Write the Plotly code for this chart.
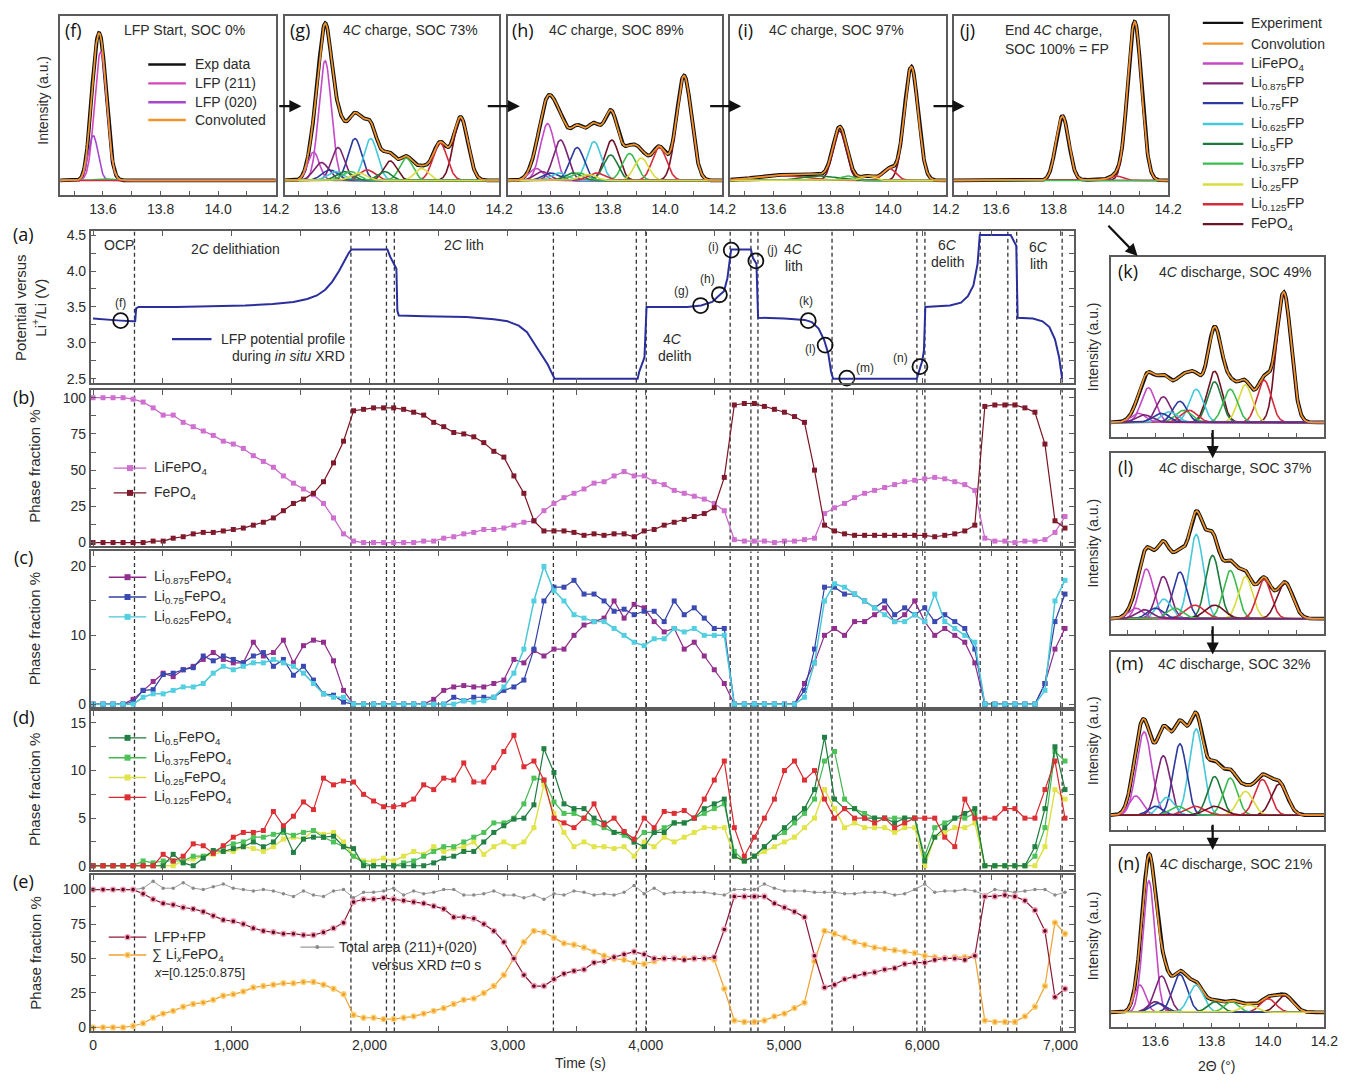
import numpy as np
import plotly.graph_objects as go

W, H = 1369, 1082
TXT = "Liberation Sans, Arial, Helvetica, sans-serif"
LBL = "Open Sans, DejaVu Sans, sans-serif"
FRAME = "#5b5b5b"
INK = "#2b2b2b"

# ---------------------------------------------------------------- time series data
time_s = [0, 72.5, 145, 217.5, 290, 362.5, 435, 507.5, 580, 652.5,
          725, 797.5, 870, 942.5, 1015, 1087.5, 1160, 1232.5, 1305, 1377.5,
          1450, 1522.5, 1595, 1667.5, 1740, 1812.5, 1885, 1957.5, 2030, 2102.5,
          2175, 2247.5, 2320, 2392.5, 2465, 2537.5, 2610, 2682.5, 2755, 2827.5,
          2900, 2972.5, 3045, 3117.5, 3190, 3262.5, 3335, 3407.5, 3480, 3552.5,
          3625, 3697.5, 3770, 3842.5, 3915, 3987.5, 4060, 4132.5, 4205, 4277.5,
          4350, 4422.5, 4495, 4567.5, 4640, 4712.5, 4785, 4857.5, 4930, 5002.5,
          5075, 5147.5, 5220, 5292.5, 5365, 5437.5, 5510, 5582.5, 5655, 5727.5,
          5800, 5872.5, 5945, 6017.5, 6090, 6162.5, 6235, 6307.5, 6380, 6452.5,
          6525, 6597.5, 6670, 6742.5, 6815, 6887.5, 6960, 7032.5]

lifepo4 = [100, 100, 100, 100, 99, 97, 93, 88, 88, 83,
           80, 77, 74, 70, 68, 65, 60, 56, 52, 46,
           41, 37, 33, 27, 17, 6, 1, 0, 0, 0,
           0, 0, 0, 1, 1, 3, 4, 6, 7, 9,
           9, 10, 12, 14, 15, 22, 27, 31, 34, 37,
           41, 42, 46, 49, 46, 46, 42, 40, 36, 34,
           32, 30, 27, 22, 2, 1, 1, 1, 0, 1,
           1, 2, 3, 20, 24, 27, 31, 34, 36, 38,
           40, 42, 43, 44, 45, 44, 42, 40, 36, 3,
           1, 1, 0, 1, 1, 2, 7, 18]
fepo4 = [0, 0, 0, 0, 0, 0, 1, 1, 3, 4,
         6, 7, 7, 8, 9, 10, 12, 14, 17, 22,
         27, 30, 34, 42, 55, 70, 91, 92, 93, 93,
         93, 92, 90, 88, 83, 80, 76, 75, 73, 69,
         63, 59, 46, 34, 15, 8, 8, 8, 7, 5,
         6, 5, 6, 6, 4, 8, 9, 12, 14, 16,
         18, 20, 24, 45, 95, 96, 96, 94, 92, 90,
         87, 83, 50, 12, 8, 6, 5, 5, 5, 5,
         5, 5, 5, 5, 4, 5, 6, 8, 12, 94,
         95, 95, 95, 93, 90, 68, 15, 10]

li0875 = [0, 0, 0, 0, 0.7, 2, 3.3, 4.5, 4, 5,
          5.5, 6.5, 7.5, 6.5, 6, 6, 9, 7, 7.5, 9.3,
          6, 8.5, 9.3, 9, 6.3, 2, 0, 0, 0, 0,
          0, 0, 0, 0, 0.7, 2, 2.5, 2.7, 2.5, 2.5,
          3, 3.5, 6.5, 6, 7.8, 7, 8, 8, 10, 11.5,
          12, 12.5, 15, 12.5, 14.5, 14, 12, 10.5, 11, 8,
          9, 7, 5, 3, 0, 0, 0, 0, 0, 0,
          0, 3, 6, 10, 11, 10, 12, 12, 13, 14,
          12, 13, 15, 12, 10, 11, 10, 9, 6, 0,
          0, 0, 0, 0, 0, 3, 8, 11]
li075 = [0, 0, 0, 0, 0.3, 2, 2.1, 4.3, 4.5, 5,
         5.3, 7, 6.3, 7, 6.5, 6, 7, 7.5, 5.5, 6.5,
         4.2, 5.5, 3.5, 1.5, 1.3, 0.3, 0, 0, 0, 0,
         0, 0, 0, 0, 0, 0, 1, 0.5, 1, 1,
         1, 2, 2.5, 3.5, 8, 15, 17, 17, 18, 16,
         16, 15, 13.5, 13.8, 13, 13.5, 13.5, 12, 15, 13,
         14, 12.5, 11, 11, 0, 0, 0, 0, 0, 0,
         0, 2, 8, 17, 17, 16, 16, 15, 14, 15,
         13, 14, 13, 14, 12, 13, 12, 11, 8, 0,
         0, 0, 0, 0, 0, 3, 12, 16]
li0625 = [0, 0, 0, 0, 0, 1, 1.5, 1.5, 2, 2.5,
          2.5, 3, 4.5, 5.5, 5, 5.5, 6, 6, 6.5, 6,
          5.5, 4.5, 3, 1.5, 1, 1, 0, 0, 0, 0,
          0, 0, 0, 0, 0, 0, 0, 0.5, 0.3, 0.5,
          1, 2.5, 4.5, 8, 15, 20, 16.5, 15, 13, 12.5,
          12, 12, 11, 10, 9, 8.5, 9.5, 9.5, 11, 10.5,
          11, 10, 10, 10, 0, 0, 0, 0, 0, 0,
          0, 1, 6, 15, 17.5, 17, 16, 15, 14, 13,
          12, 12, 13, 12, 16, 12, 11, 10, 9, 0,
          0, 0, 0, 0, 0, 2, 15, 18]

li05 = [0, 0, 0, 0, 0, 0, 0, 0, 1.2, 0.3,
        0, 0.8, 1.6, 1.5, 1.8, 2, 2.5, 2, 2.5, 3.8,
        1.4, 2.8, 3, 3, 3.1, 2, 1.8, 0, 0, 0,
        0, 0, 0, 0, 0.3, 0.8, 1, 1.5, 1.5, 2.5,
        3.5, 4.2, 4.9, 5, 6.4, 12.3, 9.8, 6.5, 6, 6,
        5, 4.5, 3.5, 3.5, 2.5, 2, 3.5, 3.5, 4.5, 4.5,
        5, 6, 6.5, 7, 1, 0.5, 1, 2, 3, 4,
        5, 6, 8, 13.5, 7, 6, 6, 5, 5, 5,
        4.5, 5, 5, 0.5, 3, 4, 5, 5.5, 6, 0,
        0, 0, 0, 0, 2, 6, 12.5, 8]
li0375 = [0, 0, 0, 0, 0, 0.5, 0.3, 0.5, 0.5, 0.5,
          1, 1, 1.5, 2, 2.3, 2.5, 3, 3, 3.3, 3.5,
          3.2, 3.5, 3.7, 3, 2.5, 2, 1, 0.3, 0, 0,
          0, 0.3, 0.5, 1, 1.5, 2, 2, 2.5, 3, 3.5,
          4.5, 4.5, 5, 6.5, 9.2, 9, 6.7, 5.5, 5.5, 5,
          4.5, 4, 3.5, 3.2, 2.5, 3.5, 3.5, 4, 4.5, 4.5,
          5, 5.5, 6, 6.5, 1.5, 0.5, 1, 2, 3, 3.5,
          4.5, 5.5, 7, 11, 12, 7, 6, 5.5, 5, 5,
          5, 5, 5, 1, 4, 4.5, 5, 5, 5.5, 0,
          0, 0, 0, 0, 1, 4, 12, 11]
li025 = [0, 0, 0, 0, 0, 0, 0, 0, 0, 0.5,
         0.7, 1, 1.2, 1.5, 1.5, 2, 1.8, 1.5, 2, 2.8,
         3, 2.8, 3.7, 3.3, 3.5, 2.5, 1, 0.5, 0.5, 0.8,
         0.5, 1, 1.5, 1.2, 2, 1.5, 1.8, 2, 2.5, 1.2,
         2, 2.5, 2, 2.5, 4, 8.5, 5.5, 3.5, 2, 2.5,
         2, 2, 1.8, 2, 1, 2.5, 2, 3, 2.5, 3,
         3.5, 4, 4, 4, 1, 0.5, 1, 1.5, 2, 2.5,
         3, 4, 5, 8, 6, 4, 4.5, 4, 4, 4,
         3.5, 4, 4, 0, 3, 3.5, 4, 4, 4.5, 0,
         0, 0, 0, 0, 0, 2, 8, 7]
li0125 = [0, 0, 0, 0, 0, 0, 0, 1.2, 0.5, 1,
          2.3, 2.1, 1.3, 2.1, 3, 3.5, 3.5, 3.7, 5.7, 4.2,
          5.2, 6.7, 5.9, 9.2, 8.5, 8.9, 8.8, 7.5, 6.8, 6.2,
          6.2, 6.4, 7, 8.5, 8, 9.2, 9, 10.8, 8.8, 8.8,
          10.3, 12, 13.7, 10.4, 11, 9, 5, 4.5, 4, 5,
          6.5, 4.3, 5, 3.6, 2.8, 5, 4, 5.7, 5.5, 5.8,
          5, 7, 9, 11, 4, 1, 3, 5, 7, 10,
          11, 9, 10, 7, 5, 6, 5, 5, 4.5, 5,
          4, 4.5, 5, 5, 5, 3, 2, 7, 5, 5,
          5, 6, 6, 5, 5, 8, 11, 5]

lfp_plus_fp = [100, 100, 100, 100, 100, 97, 93, 90, 89, 87,
               86, 84, 81, 78, 77, 75, 72, 70, 69, 68,
               68, 67, 67, 69, 72, 76, 91, 93, 93, 94,
               93, 92, 91, 90, 88, 86, 80, 80, 79, 75,
               70, 62, 50, 38, 30, 30, 35, 39, 41, 42,
               47, 48, 51, 53, 55, 53, 50, 50, 50, 49,
               50, 50, 51, 71, 95, 95, 95, 95, 90, 87,
               84, 80, 52, 29, 31, 35, 37, 39, 40, 42,
               43, 46, 47, 47, 49, 50, 50, 49, 52, 95,
               95, 96, 95, 92, 85, 70, 22, 28]
sum_lix = [0, 0, 0, 0, 1, 3, 7, 10, 12, 15,
           17, 18, 20, 23, 24, 26, 29, 30, 31, 32,
           32, 33, 33, 31, 28, 24, 9, 7, 7, 6,
           6, 7, 8, 10, 12, 14, 17, 20, 21, 25,
           30, 38, 50, 62, 70, 69, 65, 61, 60, 58,
           55, 52, 50, 49, 47, 46, 48, 50, 50, 50,
           50, 50, 49, 28, 5, 4, 4, 5, 8, 10,
           14, 18, 48, 70, 68, 65, 62, 60, 58, 57,
           56, 55, 54, 52, 51, 50, 51, 51, 52, 5,
           4, 4, 4, 8, 15, 30, 76, 68]
total_area = [100, 100, 100, 100, 100, 101, 106, 101, 101, 105,
              101, 100, 102, 104, 101, 100, 99, 100, 99, 97,
              95, 99, 96, 95, 99, 100, 94, 98, 98, 99,
              101, 96, 99, 97, 98, 100, 100, 96, 96, 97,
              99, 96, 96, 94, 96, 93, 97, 96, 99, 98,
              96, 97, 96, 98, 103, 97, 101, 97, 98, 98,
              98, 98, 97, 96, 100, 100, 100, 104, 101, 99,
              99, 99, 98, 98, 98, 97, 97, 98, 98, 98,
              96, 97, 100, 104, 98, 99, 99, 100, 99, 96,
              100, 99, 98, 99, 100, 100, 96, 98]

# potential profile (a)
pot_t = [0, 100, 200, 290, 305, 312, 330, 600, 900, 1100, 1300, 1450, 1550, 1620, 1680,
         1730, 1780, 1820, 1850, 1870, 2130, 2150, 2180, 2195, 2202, 2212, 2400, 2700,
         2900, 3000, 3080, 3140, 3190, 3240, 3290, 3340, 3940, 3952, 3990, 4005, 4300,
         4400, 4480, 4530, 4565, 4590, 4605, 4617, 4760, 4775, 4800, 4812, 5000, 5150,
         5200, 5250, 5290, 5320, 5340, 5355, 5960, 5975, 6000, 6012, 6022, 6200, 6280,
         6330, 6370, 6400, 6416, 6640, 6660, 6680, 6690, 6800, 6870, 6920, 6960, 6990, 7012]
pot_v = [3.34, 3.33, 3.31, 3.30, 3.30, 3.48, 3.50, 3.50, 3.51, 3.52, 3.54, 3.57, 3.61, 3.66,
         3.74, 3.85, 4.00, 4.15, 4.25, 4.30, 4.30, 4.20, 4.07, 4.03, 3.45, 3.38, 3.37, 3.36,
         3.33, 3.30, 3.24, 3.15, 3.00, 2.85, 2.70, 2.50, 2.50, 2.60, 2.80, 3.50, 3.50,
         3.52, 3.57, 3.66, 3.72, 3.90, 4.10, 4.30, 4.30, 4.18, 4.10, 3.35, 3.34, 3.32,
         3.29, 3.20, 3.04, 2.85, 2.60, 2.50, 2.50, 2.60, 2.75, 2.90, 3.50, 3.52, 3.56,
         3.65, 3.80, 4.10, 4.50, 4.50, 4.42, 4.35, 3.35, 3.34, 3.30, 3.22, 3.05, 2.80, 2.50]

xrd_point_labels = ["(f)", "(g)", "(h)", "(i)", "(j)", "(k)", "(l)", "(m)", "(n)"]
xrd_point_t = [200, 4396, 4532, 4618, 4796, 5175, 5297, 5454, 5983]
xrd_point_v = [3.31, 3.52, 3.67, 4.29, 4.14, 3.31, 2.97, 2.51, 2.67]

step_times = [300, 1866, 2123, 2180, 3331, 3931, 4003, 4610, 4760, 4811,
              5347, 5961, 6019, 6419, 6619, 6683, 7012]

# ---------------------------------------------------------------- XRD peak fits
f_phase = ["LFP020", "LFP211", "375", "125"]
f_center = [13.566, 13.592, 13.600, 13.950]
f_height = [0.30, 0.86, 0.010, 0.005]
f_sigma = [0.017, 0.021, 0.030, 0.060]

g_phase = ["LFP", "LFP", "875", "875", "75", "75", "625", "625", "5", "5",
           "375", "375", "25", "25", "125", "125", "FP", "FP"]
g_center = [13.553, 13.593, 13.580, 13.638, 13.610, 13.697, 13.630, 13.752, 13.660, 13.800,
            13.680, 13.876, 13.710, 13.930, 13.740, 13.994, 13.820, 14.066]
g_height = [0.19, 0.80, 0.12, 0.22, 0.07, 0.28, 0.06, 0.28, 0.06, 0.06,
            0.06, 0.15, 0.05, 0.08, 0.07, 0.25, 0.13, 0.42]
g_sigma = [0.020, 0.022, 0.026, 0.023, 0.028, 0.024, 0.028, 0.024, 0.028, 0.024,
           0.028, 0.023, 0.028, 0.024, 0.028, 0.025, 0.023, 0.025]

h_phase = ["LFP", "LFP", "875", "875", "75", "75", "625", "625", "5", "5",
           "375", "375", "25", "25", "125", "125", "FP", "FP"]
h_center = [13.550, 13.590, 13.570, 13.635, 13.600, 13.693, 13.630, 13.752, 13.680, 13.810,
            13.700, 13.876, 13.730, 13.917, 13.760, 13.980, 13.814, 14.066]
h_height = [0.08, 0.38, 0.06, 0.27, 0.05, 0.22, 0.05, 0.26, 0.05, 0.17,
            0.05, 0.18, 0.04, 0.15, 0.05, 0.22, 0.27, 0.70]
h_sigma = [0.024, 0.025, 0.026, 0.025, 0.028, 0.025, 0.028, 0.025, 0.028, 0.025,
           0.028, 0.025, 0.028, 0.025, 0.028, 0.025, 0.025, 0.026]

i_phase = ["125", "5", "FP", "375", "25", "125", "FP"]
i_center = [13.620, 13.760, 13.831, 13.860, 13.930, 14.004, 14.080]
i_height = [0.035, 0.030, 0.33, 0.030, 0.030, 0.08, 0.76]
i_sigma = [0.080, 0.060, 0.023, 0.023, 0.023, 0.023, 0.024]

j_phase = ["375", "125", "FP", "FP"]
j_center = [13.950, 14.020, 13.831, 14.083]
j_height = [0.005, 0.030, 0.43, 1.06]
j_sigma = [0.050, 0.022, 0.022, 0.024]

k_phase = ["LFP", "875", "75", "625", "375", "125", "LFP", "875", "75", "625",
           "5", "375", "25", "125", "FP", "FP"]
k_center = [13.540, 13.560, 13.620, 13.650, 13.700, 13.720, 13.575, 13.628, 13.687, 13.745,
            13.810, 13.866, 13.919, 13.986, 13.810, 14.056]
k_height = [0.06, 0.05, 0.06, 0.07, 0.08, 0.08, 0.23, 0.17, 0.14, 0.22,
            0.27, 0.22, 0.25, 0.28, 0.34, 0.86]
k_sigma = [0.026, 0.028, 0.028, 0.028, 0.028, 0.028, 0.025, 0.025, 0.025, 0.025,
           0.025, 0.025, 0.025, 0.025, 0.026, 0.026]

l_phase = ["LFP", "875", "75", "375", "625", "125", "FP", "LFP", "875", "75",
           "625", "5", "375", "25", "125", "FP"]
l_center = [13.530, 13.560, 13.600, 13.670, 13.630, 13.740, 13.810, 13.568, 13.628, 13.687,
            13.745, 13.803, 13.866, 13.920, 13.986, 14.060]
l_height = [0.07, 0.06, 0.07, 0.07, 0.13, 0.09, 0.09, 0.33, 0.28, 0.31,
            0.56, 0.42, 0.32, 0.28, 0.26, 0.24]
l_sigma = [0.026, 0.028, 0.028, 0.028, 0.026, 0.034, 0.034, 0.025, 0.025, 0.025,
           0.025, 0.025, 0.025, 0.025, 0.025, 0.028]

m_phase = ["LFP", "75", "625", "375", "125", "FP", "LFP", "875", "75", "625",
           "5", "375", "25", "125", "FP"]
m_center = [13.530, 13.600, 13.640, 13.680, 13.740, 13.810, 13.560, 13.628, 13.687, 13.745,
            13.810, 13.866, 13.920, 13.980, 14.040]
m_height = [0.13, 0.06, 0.12, 0.06, 0.06, 0.06, 0.56, 0.40, 0.48, 0.58,
            0.26, 0.25, 0.16, 0.24, 0.21]
m_sigma = [0.024, 0.026, 0.026, 0.028, 0.034, 0.034, 0.027, 0.024, 0.024, 0.025,
           0.025, 0.025, 0.027, 0.027, 0.028]

n_phase = ["LFP", "875", "75", "LFP", "875", "75", "625", "5", "375", "25", "125", "FP"]
n_center = [13.545, 13.600, 13.610, 13.577, 13.622, 13.687, 13.745, 13.810, 13.870, 13.930,
            14.000, 14.060]
n_height = [0.18, 0.07, 0.06, 0.87, 0.24, 0.25, 0.18, 0.07, 0.07, 0.05, 0.09, 0.11]
n_sigma = [0.020, 0.026, 0.028, 0.021, 0.025, 0.026, 0.026, 0.025, 0.025, 0.027, 0.027, 0.029]

xrd_titles = ["LFP Start, SOC 0%", "4<i>C</i> charge, SOC 73%", "4<i>C</i> charge, SOC 89%",
              "4<i>C</i> charge, SOC 97%", "",
              "4<i>C</i> discharge, SOC 49%", "4<i>C</i> discharge, SOC 37%",
              "4<i>C</i> discharge, SOC 32%", "4<i>C</i> discharge, SOC 21%"]
xrd_letters = ["(f)", "(g)", "(h)", "(i)", "(j)", "(k)", "(l)", "(m)", "(n)"]

legend_names = ["Experiment", "Convolution", "LiFePO<sub>4</sub>", "Li<sub>0.875</sub>FP",
                "Li<sub>0.75</sub>FP", "Li<sub>0.625</sub>FP", "Li<sub>0.5</sub>FP",
                "Li<sub>0.375</sub>FP", "Li<sub>0.25</sub>FP", "Li<sub>0.125</sub>FP",
                "FePO<sub>4</sub>"]

# ---------------------------------------------------------------- styles
PH_COL = {"LFP": "#c449c6", "LFP211": "#d646b8", "LFP020": "#a447cc", "875": "#7c2474",
          "75": "#2b3a9c", "625": "#45c8da", "5": "#1d7a3d", "375": "#3dbb4f",
          "25": "#d9dc3e", "125": "#d42b3d", "FP": "#6e1226"}
EXP_COL = "#111111"
CONV_COL = "#f0952b"
legend_cols = [EXP_COL, CONV_COL, PH_COL["LFP"], PH_COL["875"], PH_COL["75"], PH_COL["625"],
               PH_COL["5"], PH_COL["375"], PH_COL["25"], PH_COL["125"], PH_COL["FP"]]

fig = go.Figure()
axes = {}


def names(n):
    return ("xaxis" if n == 1 else f"xaxis{n}", "yaxis" if n == 1 else f"yaxis{n}",
            "x" if n == 1 else f"x{n}", "y" if n == 1 else f"y{n}")


def add_axes(n, px0, px1, py0, py1, xr, yr, xkw=None, ykw=None):
    xa, ya, xr_id, yr_id = names(n)
    base = dict(showline=True, mirror=True, linecolor=FRAME, linewidth=2, showgrid=False,
                zeroline=False, ticks="", showticklabels=False, fixedrange=True,
                tickfont=dict(family=TXT, size=14, color=INK), tickcolor=FRAME)
    xd = dict(base, domain=[px0 / W, px1 / W], range=xr, anchor=yr_id)
    yd = dict(base, domain=[1 - py1 / H, 1 - py0 / H], range=yr, anchor=xr_id)
    if xkw:
        xd.update(xkw)
    if ykw:
        yd.update(ykw)
    axes[xa] = xd
    axes[ya] = yd
    return xr_id, yr_id


def minor(vals, length=3):
    return dict(tickmode="array", tickvals=vals, ticks="inside", ticklen=length, tickcolor=FRAME)


# ---------------------------------------------------------------- XRD panels
tt = np.linspace(13.44, 14.2, 500)
xrd_sets = [(f_phase, f_center, f_height, f_sigma), (g_phase, g_center, g_height, g_sigma),
            (h_phase, h_center, h_height, h_sigma), (i_phase, i_center, i_height, i_sigma),
            (j_phase, j_center, j_height, j_sigma), (k_phase, k_center, k_height, k_sigma),
            (l_phase, l_center, l_height, l_sigma), (m_phase, m_center, m_height, m_sigma),
            (n_phase, n_center, n_height, n_sigma)]
xrd_boxes = [(59, 277, 12, 193), (286, 503, 12, 193), (512, 729, 12, 193),
             (737, 955, 12, 193), (963, 1180, 12, 193),
             (1122, 1338, 255, 437), (1122, 1338, 453, 635),
             (1122, 1338, 653, 833), (1122, 1338, 849, 1032)]
xrd_ticks = [13.6, 13.8, 14.0, 14.2]
xrd_ticklabels = ["13.6", "13.8", "14.0", "14.2"]
xrd_minor = [13.5, 13.7, 13.9, 14.1]

for idx, ((ph, cen, hei, sig), (x0, x1, y0, y1)) in enumerate(zip(xrd_sets, xrd_boxes)):
    n = idx + 1
    top = idx < 5
    show_lab = top or idx == 8
    xlo = 13.452 if top else 13.442
    xid, yid = add_axes(n, x0, x1, y0, y1, [xlo, 14.2], [-0.1, 1.1],
                        xkw=dict(tickmode="array", tickvals=xrd_ticks, ticktext=xrd_ticklabels,
                                 ticks="inside", ticklen=4, showticklabels=show_lab,
                                 minor=minor(xrd_minor, 4),
                                 tickfont=dict(family=TXT, size=14, color=INK)))
    comps = [h * np.exp(-(tt - c) ** 2 / (2 * s ** 2)) for c, h, s in zip(cen, hei, sig)]
    conv = np.sum(comps, axis=0)
    fig.add_trace(go.Scatter(x=tt, y=conv, mode="lines", line=dict(color=EXP_COL, width=3.8),
                             xaxis=xid, yaxis=yid, showlegend=False, hoverinfo="skip"))
    order = sorted(range(len(comps)), key=lambda q: -hei[q])
    for q in order:
        fig.add_trace(go.Scatter(x=tt, y=comps[q], mode="lines",
                                 line=dict(color=PH_COL[ph[q]], width=1.6),
                                 xaxis=xid, yaxis=yid, showlegend=False, hoverinfo="skip"))
    fig.add_trace(go.Scatter(x=tt, y=conv, mode="lines", line=dict(color=CONV_COL, width=1.7),
                             xaxis=xid, yaxis=yid, showlegend=False, hoverinfo="skip"))

# ---------------------------------------------------------------- main stacked panels
TX = [-15, 7100]
t_major = [0, 1000, 2000, 3000, 4000, 5000, 6000, 7000]
t_labels = ["0", "1,000", "2,000", "3,000", "4,000", "5,000", "6,000", "7,000"]
t_minor = [500, 1500, 2500, 3500, 4500, 5500, 6500]
main_boxes = {"a": (229, 382), "b": (389, 547), "c": (552, 709), "d": (713, 873), "e": (878, 1036)}
main_yr = {"a": [2.445, 4.555], "b": [-2.7, 105.5], "c": [-0.43, 22.2], "d": [-0.42, 16.25],
           "e": [-2.9, 110.8]}
main_yt = {"a": ([2.5, 3.0, 3.5, 4.0, 4.5], ["2.5", "3.0", "3.5", "4.0", "4.5"],
                 [2.75, 3.25, 3.75, 4.25]),
           "b": ([0, 25, 50, 75, 100], ["0", "25", "50", "75", "100"],
                 [12.5, 37.5, 62.5, 87.5]),
           "c": ([0, 10, 20], ["0", "10", "20"], [5, 15]),
           "d": ([0, 5, 10, 15], ["0", "5", "10", "15"], [2.5, 7.5, 12.5]),
           "e": ([0, 25, 50, 75, 100], ["0", "25", "50", "75", "100"],
                 [12.5, 37.5, 62.5, 87.5])}
main_ids = {}
for k, key in enumerate(["a", "b", "c", "d", "e"]):
    n = 10 + k
    py0, py1 = main_boxes[key]
    yv, yl, ym = main_yt[key]
    xid, yid = add_axes(n, 90, 1085, py0, py1, TX, main_yr[key],
                        xkw=dict(tickmode="array", tickvals=t_major, ticktext=t_labels,
                                 ticks="inside", ticklen=5, mirror="ticks",
                                 minor=minor(t_minor, 5), showticklabels=(key == "e")),
                        ykw=dict(tickmode="array", tickvals=yv, ticktext=yl, ticks="inside",
                                 ticklen=5, mirror="ticks", minor=minor(ym, 5),
                                 showticklabels=True))
    main_ids[key] = (xid, yid)

shapes = []
for key in ["a", "b", "c", "d", "e"]:
    xid, yid = main_ids[key]
    for ts in step_times:
        shapes.append(dict(type="line", xref=xid, yref=f"{yid} domain", x0=ts, x1=ts, y0=0, y1=1,
                           line=dict(color="#333333", width=1.3, dash="4px,3px"), layer="below"))

# (a) potential
xa_, ya_ = main_ids["a"]
fig.add_trace(go.Scatter(x=pot_t, y=pot_v, mode="lines", line=dict(color="#2b2f9c", width=2),
                         xaxis=xa_, yaxis=ya_, showlegend=False, hoverinfo="skip"))
fig.add_trace(go.Scatter(x=xrd_point_t, y=xrd_point_v, mode="markers",
                         marker=dict(symbol="circle-open", size=15, color="#111111",
                                     line=dict(width=1.8)),
                         xaxis=xa_, yaxis=ya_, showlegend=False, hoverinfo="skip", cliponaxis=False))


def series(key, y, lc, mc, sym="square", ms=5, lw=1.2, mline=None):
    xid, yid = main_ids[key]
    mk = dict(symbol=sym, size=ms, color=mc)
    if mline:
        mk["line"] = dict(color=mline, width=1.4)
    fig.add_trace(go.Scatter(x=time_s, y=y, mode="lines+markers", line=dict(color=lc, width=lw),
                             marker=mk, xaxis=xid, yaxis=yid, showlegend=False,
                             hoverinfo="skip", cliponaxis=False))


S = {"lfp": ("#c766c8", "#cf6fd0"), "fp": ("#7a1424", "#7f1a2c"),
     "875": ("#8b2a88", "#93308f"), "75": ("#3040a2", "#3a4ab2"), "625": ("#49c6d8", "#52d0e2"),
     "5": ("#1d7a3d", "#238044"), "375": ("#43b64f", "#4cc258"), "25": ("#dcdf44", "#e2e54a"),
     "125": ("#d8282e", "#dd3036"),
     "lf": ("#8b1a3a", "#5c0a1e", "#f4a0b8"), "sx": ("#eea032", "#f0a030", "#fbd47a"),
     "ta": ("#9a9a9a", "#8a8a8a")}

series("b", lifepo4, *S["lfp"])
series("b", fepo4, *S["fp"])
series("c", li0875, *S["875"])
series("c", li075, *S["75"])
series("c", li0625, *S["625"], lw=1.5)
series("d", li025, *S["25"], lw=1.4)
series("d", li0375, *S["375"])
series("d", li05, *S["5"])
series("d", li0125, *S["125"])
series("e", total_area, *S["ta"], sym="circle", ms=3.5, lw=1)
series("e", sum_lix, S["sx"][0], S["sx"][1], sym="circle", ms=5, lw=1.2, mline=S["sx"][2])
series("e", lfp_plus_fp, S["lf"][0], S["lf"][1], sym="circle", ms=5, lw=1.2, mline=S["lf"][2])

# ---------------------------------------------------------------- overlay (pixel) axis
OV = 15
add_axes(OV, 0, W, 0, H, [0, W], [H, 0], xkw=dict(visible=False), ykw=dict(visible=False))
OX, OY = "x15", "y15"


def glyph(x0, x1, y, color, width=2.0, marker=None, mcolor=None, ms=6, mline=None):
    fig.add_trace(go.Scatter(x=[x0, x1], y=[y, y], mode="lines", line=dict(color=color, width=width),
                             xaxis=OX, yaxis=OY, showlegend=False, hoverinfo="skip"))
    if marker:
        mk = dict(symbol=marker, size=ms, color=mcolor or color)
        if mline:
            mk["line"] = dict(color=mline, width=1.4)
        fig.add_trace(go.Scatter(x=[(x0 + x1) / 2], y=[y], mode="markers", marker=mk,
                                 xaxis=OX, yaxis=OY, showlegend=False, hoverinfo="skip"))


annotations = []


def txt(x, y, s, size=14, xanchor="center", family=TXT, angle=0, color=INK, yanchor="middle"):
    annotations.append(dict(x=x, y=y, xref=OX, yref=OY, text=s, showarrow=False,
                            xanchor=xanchor, yanchor=yanchor, textangle=angle,
                            font=dict(family=family, size=size, color=color)))


def arrow(x0, y0, x1, y1):
    annotations.append(dict(x=x1, y=y1, ax=x0, ay=y0, xref=OX, yref=OY, axref=OX, ayref=OY,
                            text="", showarrow=True, arrowhead=2, arrowsize=1.1, arrowwidth=2.2,
                            arrowcolor="#111111"))


# top-right legend
leg_y = [19, 40, 60, 80, 100, 121, 141, 161, 182, 202, 222]
for name, col, yy in zip(legend_names, legend_cols, leg_y):
    glyph(1215, 1256, yy, col, width=2.4)
    txt(1262, yy, name, size=14, xanchor="left")

# (f) inset legend
f_leg = [("Exp data", EXP_COL), ("LFP (211)", PH_COL["LFP211"]), ("LFP (020)", PH_COL["LFP020"]),
         ("Convoluted", CONV_COL)]
for (name, col), yy in zip(f_leg, [61, 80, 99, 117]):
    glyph(148, 186, yy, col, width=2.4)
    txt(193, yy, name, size=14, xanchor="left")

# XRD panel letters and titles
letter_pos = [(72, 26), (302, 26), (527, 26), (752, 26), (977, 26),
              (1139, 269), (1137, 467), (1141, 665), (1140, 866)]
title_pos = [(185, 26), (413, 26), (622, 26), (844, 26), None,
             (1248, 270), (1248, 468), (1247, 666), (1249, 867)]
for lt, tp, ttl, lp in zip(xrd_letters, title_pos, xrd_titles, letter_pos):
    txt(lp[0], lp[1], lt, size=18, family=LBL, color="#111111")
    if tp:
        txt(tp[0], tp[1], ttl, size=14)
txt(1013, 26, "End 4<i>C</i> charge,", size=14, xanchor="left")
txt(1013, 45, "SOC 100% = FP", size=14, xanchor="left")

# arrows between XRD panels
arrow(279, 103, 303, 103)
arrow(490, 103, 524, 103)
arrow(715, 103, 748, 103)
arrow(941, 103, 974, 103)
arrow(1118, 222, 1149, 254)
arrow(1225, 428, 1225, 458)
arrow(1225, 626, 1225, 656)
arrow(1225, 826, 1225, 853)

# axis titles
txt(42, 97, "Intensity (a.u.)", size=14, angle=-90)
for yy in [346, 544, 743, 940]:
    txt(1104, yy, "Intensity (a.u.)", size=14, angle=-90)
txt(1229, 1071, "2\u0398 (\u00b0)", size=14)
txt(585, 1068, "Time (s)", size=14)
txt(29, 306, "Potential versus<br>Li<sup>+</sup>/Li (V)", size=15, angle=-90)
for yy in [466, 630, 792, 957]:
    txt(33, yy, "Phase fraction %", size=15, angle=-90)
for lt, yy in zip(["(a)", "(b)", "(c)", "(d)", "(e)"], [232, 396, 558, 719, 884]):
    txt(22, yy, lt, size=18, family=LBL, color="#111111")

# (a) annotations
txt(118, 243, "OCP", size=14)
txt(236, 247, "2<i>C</i> delithiation", size=14)
txt(467, 243, "2<i>C</i> lith", size=14)
txt(678, 338, "4<i>C</i>", size=14)
txt(680, 355, "delith", size=14)
txt(801, 247, "4<i>C</i>", size=14)
txt(801, 264, "lith", size=14)
txt(957, 243, "6<i>C</i>", size=14)
txt(957, 260, "delith", size=14)
txt(1049, 245, "6<i>C</i>", size=14)
txt(1049, 262, "lith", size=14)
circ_lab_pos = [(120, 301), (688, 289), (714, 277), (720, 245), (780, 248),
                (813, 299), (818, 348), (873, 367), (909, 357)]
for lab, (cx, cy) in zip(xrd_point_labels, circ_lab_pos):
    txt(cx, cy, lab, size=12)
glyph(172, 212, 338, "#2b2f9c", width=2.2)
txt(220, 338, "LFP potential profile", size=14, xanchor="left")
txt(290, 355, "during <i>in situ</i> XRD", size=14)

# (b)-(e) legends
glyph(113, 146, 468, S["lfp"][0], width=1.4, marker="square", mcolor=S["lfp"][1])
txt(152, 468, "LiFePO<sub>4</sub>", size=14, xanchor="left")
glyph(113, 146, 493, S["fp"][0], width=1.4, marker="square", mcolor=S["fp"][1])
txt(152, 493, "FePO<sub>4</sub>", size=14, xanchor="left")

for key, lab, yy in [("875", "Li<sub>0.875</sub>FePO<sub>4</sub>", 578),
                     ("75", "Li<sub>0.75</sub>FePO<sub>4</sub>", 598),
                     ("625", "Li<sub>0.625</sub>FePO<sub>4</sub>", 618),
                     ("5", "Li<sub>0.5</sub>FePO<sub>4</sub>", 740),
                     ("375", "Li<sub>0.375</sub>FePO<sub>4</sub>", 760),
                     ("25", "Li<sub>0.25</sub>FePO<sub>4</sub>", 780),
                     ("125", "Li<sub>0.125</sub>FePO<sub>4</sub>", 800)]:
    glyph(108, 146, yy, S[key][0], width=1.4, marker="square", mcolor=S[key][1])
    txt(152, yy, lab, size=14, xanchor="left")

glyph(108, 146, 941, S["lf"][0], width=1.4, marker="circle", mcolor=S["lf"][1], ms=5, mline=S["lf"][2])
txt(152, 941, "LFP+FP", size=14, xanchor="left")
glyph(108, 146, 959, S["sx"][0], width=1.4, marker="circle", mcolor=S["sx"][1], ms=5, mline=S["sx"][2])
txt(150, 959, "\u2211 Li<sub><i>x</i></sub>FePO<sub>4</sub>", size=14, xanchor="left")
txt(152, 977, "<i>x</i>=[0.125:0.875]", size=13, xanchor="left")
glyph(302, 336, 951, S["ta"][0], width=1.2, marker="circle", mcolor=S["ta"][1], ms=4)
txt(339, 951, "Total area (211)+(020)", size=14, xanchor="left")
txt(430, 969, "versus XRD <i>t</i>=0 s", size=14)

fig.update_layout(width=W, height=H, autosize=False, margin=dict(l=0, r=0, t=0, b=0),
                  paper_bgcolor="white", plot_bgcolor="rgba(0,0,0,0)", showlegend=False,
                  annotations=annotations, shapes=shapes, **axes)

fig.write_html("out.html", config={"displayModeBar": False, "staticPlot": True},
               post_script="document.body.style.margin='0';document.body.style.overflow='hidden';")
